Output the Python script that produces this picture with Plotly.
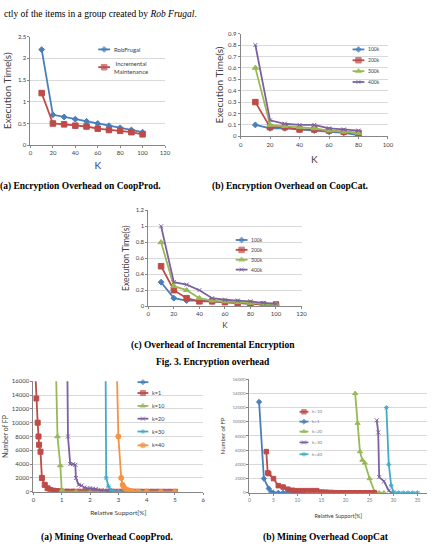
import plotly.graph_objects as go

W, H = 445, 555

# ---------------- data ----------------
# (a) Encryption Overhead on CoopProd
a_k = [10, 20, 30, 40, 50, 60, 70, 80, 90, 100]
a_robfrugal = [2.2, 0.7, 0.65, 0.6, 0.55, 0.5, 0.45, 0.4, 0.35, 0.3]
a_incremental = [1.2, 0.5, 0.48, 0.45, 0.43, 0.38, 0.35, 0.33, 0.3, 0.25]

# (b) Encryption Overhead on CoopCat
b_k = [10, 20, 30, 40, 50, 60, 70, 80]
b_100k = [0.1, 0.07, 0.07, 0.06, 0.05, 0.04, 0.03, 0.01]
b_200k = [0.3, 0.08, 0.08, 0.06, 0.06, 0.05, 0.04, 0.03]
b_300k = [0.6, 0.1, 0.09, 0.08, 0.07, 0.05, 0.04, 0.03]
b_400k = [0.8, 0.14, 0.11, 0.1, 0.1, 0.07, 0.06, 0.05]

# (c) Overhead of Incremental Encryption
c_k = [10, 20, 30, 40, 50, 60, 70, 80, 90, 100]
c_100k = [0.3, 0.1, 0.07, 0.07, 0.06, 0.05, 0.04, 0.03, 0.02, 0.02]
c_200k = [0.5, 0.2, 0.1, 0.06, 0.06, 0.05, 0.04, 0.03, 0.02, 0.02]
c_300k = [0.8, 0.25, 0.2, 0.1, 0.07, 0.06, 0.05, 0.04, 0.03, 0.02]
c_400k = [1.0, 0.3, 0.27, 0.2, 0.1, 0.08, 0.07, 0.06, 0.04, 0.03]

# (a) Mining Overhead CoopProd
d_k1_x = [0.07, 0.1, 0.15, 0.18, 0.2, 0.25, 0.3, 0.4, 0.5, 0.6, 0.7, 0.8, 0.9, 1.0, 1.2, 1.4, 1.6,
          1.8, 2.0, 2.2, 2.4, 2.6, 2.8, 3.0, 3.2, 3.4, 3.6, 3.8, 4.0, 4.2, 4.4, 4.6, 4.8, 5.0]
d_k1_y = [17000, 13500, 10000, 8000, 6800, 5800, 2000, 1000, 500, 250, 150, 100, 60, 40, 30, 25, 20,
          20, 15, 15, 10, 10, 10, 10, 8, 8, 6, 6, 5, 5, 4, 4, 3, 3]
d_k10_x = [0.8, 0.85, 0.95, 1.0, 1.05, 1.5, 2.0, 2.5, 3.0, 3.5, 4.0]
d_k10_y = [17000, 8000, 3800, 200, 50, 20, 10, 5, 5, 3, 2]
d_k20_x = [1.2, 1.22, 1.3, 1.4, 1.48, 1.5, 1.6, 1.7, 1.8, 1.9, 2.0, 2.1, 2.2, 2.4, 2.6, 2.8, 3.0, 3.5, 4.0]
d_k20_y = [17000, 8000, 4000, 4000, 3900, 2000, 1000, 900, 600, 500, 500, 450, 400, 200, 100, 60, 30, 10, 5]
d_k30_x = [2.55, 2.57, 2.65, 2.75, 2.85, 3.0, 3.2, 3.4, 3.6, 3.8, 4.0, 4.5, 5.0]
d_k30_y = [17000, 2000, 800, 200, 50, 20, 10, 10, 5, 5, 5, 3, 2]
d_k40_x = [2.95, 3.0, 3.1, 3.15, 3.2, 3.3, 3.4, 3.5, 3.7, 4.0, 4.5, 5.0]
d_k40_y = [17000, 8000, 2000, 1000, 600, 300, 150, 80, 40, 20, 10, 5]

# (b) Mining Overhead CoopCat
e_k10_x = [3.5, 3.8, 4, 5, 6, 7, 8, 9, 10, 11, 12, 13, 14, 15, 16, 17, 18, 19, 20, 21, 22, 23, 24, 25, 26]
e_k10_y = [5800, 2800, 2700, 2000, 1000, 800, 500, 350, 300, 300, 300, 300, 300, 100, 80, 50, 10, 0, 0, 0, 0, 0, 0, 0, 0]
e_k1_x = [2, 3, 4, 4.5, 5, 6, 7, 8, 9, 10, 11]
e_k1_y = [12800, 2000, 600, 100, 0, 0, 0, 0, 0, 0, 0]
e_k20_x = [22, 22.5, 23, 23.5, 24, 25, 26, 27, 28]
e_k20_y = [14000, 9800, 5800, 4600, 4200, 2000, 200, 0, 0]
e_k30_x = [26.5, 26.8, 27, 28, 29, 29.5, 30]
e_k30_y = [10200, 8500, 2200, 1600, 300, 0, 0]
e_k40_x = [28.5, 29, 29.5, 30, 31, 32, 33, 34, 35]
e_k40_y = [12000, 4000, 1000, 100, 0, 0, 0, 0, 0]

# ---------------- style ----------------
BLUE, RED, GREEN = "#4A7EBB", "#BE4B48", "#98B954"
PURPLE, CYAN, ORANGE = "#7D60A0", "#46AAC5", "#F69240"
SANS = "Lato"
SERIF = "Liberation Serif"
AX = "#868686"
GRID = "#D9D9D9"


def px_x(p):
    return p / W


def px_y(p):
    return 1 - p / H


fig = go.Figure()


def series(x, y, ax, color, symbol, msize=4, lw=1.8, name=""):
    fig.add_trace(go.Scatter(
        x=x, y=y, xaxis="x" + ax, yaxis="y" + ax, mode="lines+markers", name=name,
        line=dict(color=color, width=lw),
        marker=dict(color=color, symbol=symbol, size=msize,
                    line=dict(color=color, width=1)),
        showlegend=False, hoverinfo="skip"))


# chart (a)
series(a_k, a_robfrugal, "", BLUE, "diamond", 4.5)
series(a_k, a_incremental, "", RED, "square", 5.5)
# chart (b)
series(b_k, b_100k, "2", BLUE, "diamond", 4.5)
series(b_k, b_200k, "2", RED, "square", 5.5)
series(b_k, b_300k, "2", GREEN, "triangle-up", 5.5)
series(b_k, b_400k, "2", PURPLE, "x-thin-open", 4)
# chart (c)
series(c_k, c_100k, "3", BLUE, "diamond", 4.5)
series(c_k, c_200k, "3", RED, "square", 5.5)
series(c_k, c_300k, "3", GREEN, "triangle-up", 5.5)
series(c_k, c_400k, "3", PURPLE, "x-thin-open", 4)
# chart (d)
series(d_k1_x, d_k1_y, "4", RED, "square", 5)
series(d_k10_x, d_k10_y, "4", GREEN, "triangle-up", 5)
series(d_k20_x, d_k20_y, "4", PURPLE, "x-thin-open", 4)
series(d_k30_x, d_k30_y, "4", CYAN, "asterisk-open", 4)
series(d_k40_x, d_k40_y, "4", ORANGE, "circle", 5)
# chart (e)
series(e_k1_x, e_k1_y, "5", BLUE, "diamond", 4)
series(e_k20_x, e_k20_y, "5", GREEN, "triangle-up", 4.5)
series(e_k30_x, e_k30_y, "5", PURPLE, "x-thin-open", 4)
series(e_k40_x, e_k40_y, "5", CYAN, "asterisk-open", 4)
series(e_k10_x, e_k10_y, "5", RED, "square", 4.5)

# ---------------- legends (pixel overlay) ----------------
annotations = []


def legend_key(x0, x1, y, color, symbol, msize, label, fsize=5.5, tcol="#404040"):
    fig.add_trace(go.Scatter(
        x=[x0, (x0 + x1) / 2, x1], y=[y, y, y], xaxis="x6", yaxis="y6",
        mode="lines+markers", line=dict(color=color, width=1.8),
        marker=dict(color=color, symbol=symbol, size=[0, msize, 0],
                    line=dict(color=color, width=1)),
        showlegend=False, hoverinfo="skip"))
    if label:
        annotations.append(dict(x=x1 + 2, y=y, xref="x6", yref="y6", text=label,
                                showarrow=False, xanchor="left", yanchor="middle",
                                font=dict(family=SANS, size=fsize, color=tcol)))


legend_key(98, 110, 46, BLUE, "diamond", 4.5, "RobFrugal", 6)
legend_key(98, 110, 64, RED, "square", 5.5, "Incremental<br>Maintenance", 6)

for y, c, s, m, t in [(46, BLUE, "diamond", 4.5, "100k"), (57, RED, "square", 5.5, "200k"),
                      (68, GREEN, "triangle-up", 5.5, "300k"), (79, PURPLE, "x-thin-open", 4, "400k")]:
    legend_key(357, 369, y, c, s, m, t, 5)

for y, c, s, m, t in [(239, BLUE, "diamond", 4.5, "100k"), (249, RED, "square", 5.5, "200k"),
                      (259, GREEN, "triangle-up", 5.5, "300k"), (269, PURPLE, "x-thin-open", 4, "400k")]:
    legend_key(238, 250, y, c, s, m, t, 5)

for y, c, s, m, t in [(383, BLUE, "diamond", 4, ""), (394, RED, "square", 5, "k=1"),
                      (407, GREEN, "triangle-up", 5, "k=10"), (420, PURPLE, "x-thin-open", 4, "k=20"),
                      (433, CYAN, "asterisk-open", 4, "k=30"), (447, ORANGE, "circle", 5, "k=40")]:
    legend_key(138, 149, y, c, s, m, t, 5.5)

for y, c, s, m, t in [(413, RED, "square", 4.5, "k=10"), (423, BLUE, "diamond", 4, "k=1"),
                      (433, GREEN, "triangle-up", 4.5, "k=20"), (444, PURPLE, "x-thin-open", 4, "k=30"),
                      (456, CYAN, "asterisk-open", 4, "k=40")]:
    legend_key(303, 312, y, c, s, m, t, 4.5, "#808080")

# ---------------- captions / text ----------------


def text(x, y, s, size=9.5, bold=True, anchor="center"):
    annotations.append(dict(x=x, y=y, xref="x6", yref="y6",
                            text=("<b>%s</b>" % s) if bold else s, showarrow=False,
                            xanchor=anchor, yanchor="middle",
                            font=dict(family=SERIF, size=size, color="#000000")))


text(0, 10, "ctly of the items in a group created by <i>Rob Frugal</i>.", 9.5, False, "left")
text(80, 185, "(a) Encryption Overhead on CoopProd.")
text(293, 185, "(b) Encryption Overhead on CoopCat.")
text(215, 346, "(c) Overhead of Incremental Encryption")
text(215, 363, "Fig. 3. Encryption overhead")
text(107, 540, "(a) Mining Overhead CoopProd.")
text(330, 540, "(b) Mining Overhead CoopCat")


# ---------------- axes ----------------
def xax(dom, rng, dtick, title, tsize, anchor, tickfs=6, tcol="#404040", standoff=6):
    return dict(domain=dom, range=rng, dtick=dtick, tick0=0, anchor=anchor,
                showline=True, linecolor=AX, linewidth=1, ticks="outside", ticklen=2,
                tickcolor=AX, showgrid=False, zeroline=False, fixedrange=True,
                tickfont=dict(family=SANS, size=tickfs, color=tcol),
                title=dict(text=title, font=dict(family=SANS, size=tsize, color="#404040"),
                           standoff=standoff))


def yax(dom, rng, dtick, title, tsize, anchor, tickfs=6, tcol="#404040", fmt=None, standoff=3):
    d = dict(domain=dom, range=rng, dtick=dtick, tick0=0, anchor=anchor,
             showline=True, linecolor=AX, linewidth=1, ticks="outside", ticklen=2,
             tickcolor=AX, showgrid=True, gridcolor=GRID, gridwidth=1, zeroline=False,
             fixedrange=True, tickfont=dict(family=SANS, size=tickfs, color=tcol),
             title=dict(text=title, font=dict(family=SANS, size=tsize, color="#404040"),
                        standoff=standoff))
    if fmt:
        d["tickformat"] = fmt
    return d


A_X = [px_x(29), px_x(166)]
A_Y = [px_y(143), px_y(33)]
B_X = [px_x(243), px_x(393)]
B_Y = [px_y(134), px_y(30)]
C_X = [px_x(149), px_x(305)]
C_Y = [px_y(306), px_y(209)]
D_X = [px_x(32), px_x(205)]
D_Y = [px_y(494), px_y(382)]
E_X = [px_x(252), px_x(433)]
E_Y = [px_y(495), px_y(380)]

fig.update_layout(
    width=W, height=H, autosize=False,
    margin=dict(l=0, r=0, t=0, b=0, pad=0),
    paper_bgcolor="white", plot_bgcolor="rgba(0,0,0,0)",
    showlegend=False,
    xaxis=xax(A_X, [0, 120], 20, "K", 10, "y", standoff=6),
    yaxis=yax(A_Y, [0, 2.5], 0.5, "Execution Time(s)", 10, "x", standoff=4),
    xaxis2=xax(B_X, [0, 100], 20, "K", 10, "y2", standoff=9),
    yaxis2=yax(B_Y, [0, 0.9], 0.1, "Execution Time(s)", 10, "x2", standoff=2),
    xaxis3=xax(C_X, [0, 120], 20, "K", 8, "y3", standoff=6),
    yaxis3=yax(C_Y, [0, 1.2], 0.2, "Execution Time(s)", 8.5, "x3", standoff=4),
    xaxis4=xax(D_X, [0, 6], 1, "Relative Support[%]", 6.5, "y4", standoff=8),
    yaxis4=yax(D_Y, [0, 16000], 2000, "Number of FP", 7, "x4", fmt="d", standoff=2),
    xaxis5=xax(E_X, [0, 37], 5, "Relative Support[%]", 5.5, "y5", 5, "#808080", standoff=12),
    yaxis5=yax(E_Y, [0, 16000], 2000, "Number of FP", 6, "x5", 4.5, "#808080", fmt="d", standoff=6),
    xaxis6=dict(domain=[0, 1], range=[0, W], visible=False, fixedrange=True, anchor="y6"),
    yaxis6=dict(domain=[0, 1], range=[H, 0], visible=False, fixedrange=True, anchor="x6"),
    annotations=annotations,
)

fig.write_html("out.html")
